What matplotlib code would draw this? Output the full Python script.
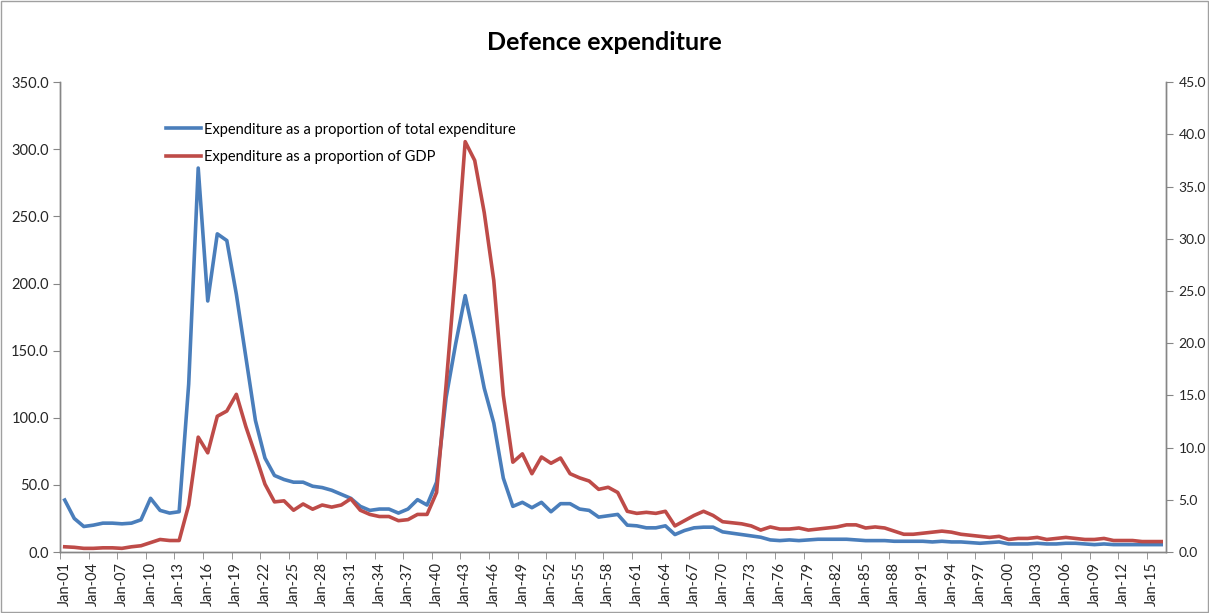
import numpy as np
import matplotlib
matplotlib.use("Agg")
import matplotlib.pyplot as plt
from matplotlib.patches import Rectangle
from matplotlib.ticker import FormatStrFormatter

plt.rcParams['font.family'] = ['Lato', 'DejaVu Sans']

years = list(range(1901, 2017))

# defence spending as % of total expenditure (left axis)
share_total = [
    38.7, 25, 19, 20, 21.5, 21.5, 21, 21.5, 24, 40,
    31, 29, 30, 125, 286, 187, 237, 232, 192, 145,
    98, 70, 57, 54, 52, 52, 49, 48, 46, 43,
    40, 34, 31, 32, 32, 29, 32, 39, 35, 52,
    115, 155, 191, 158, 122, 96, 55, 34, 37, 33,
    37, 30, 36, 36, 32, 31, 26, 27, 28, 20,
    19.5, 18, 18, 19.5, 13, 16, 18, 18.5, 18.5, 15,
    14, 13, 12, 11, 9, 8.5, 9, 8.5, 9, 9.5,
    9.5, 9.5, 9.5, 9, 8.5, 8.5, 8.5, 8, 8, 8,
    8, 7.5, 8, 7.5, 7.5, 7, 6.5, 7, 7.5, 6,
    6, 6, 6.5, 6, 6, 6.5, 6.5, 6, 5.5, 6,
    5.5, 5.5, 5.5, 5.5, 5.5, 5.5,
]

# defence spending as % of GDP (right axis)
share_gdp = [
    0.5, 0.45, 0.35, 0.35, 0.4, 0.4, 0.35, 0.5, 0.6, 0.9,
    1.2, 1.1, 1.1, 4.5, 11, 9.5, 13, 13.5, 15.1, 12,
    9.3, 6.5, 4.8, 4.9, 4.0, 4.6, 4.1, 4.5, 4.3, 4.5,
    5.1, 4.0, 3.6, 3.4, 3.4, 3.0, 3.1, 3.6, 3.6, 5.7,
    16, 27, 39.3, 37.5, 32.5, 26, 15, 8.6, 9.4, 7.5,
    9.1, 8.5, 9.0, 7.5, 7.1, 6.8, 6.0, 6.2, 5.7, 3.9,
    3.7, 3.8, 3.7, 3.9, 2.5, 3.0, 3.5, 3.9, 3.5, 2.9,
    2.8, 2.7, 2.5, 2.1, 2.4, 2.2, 2.2, 2.3, 2.1, 2.2,
    2.3, 2.4, 2.6, 2.6, 2.3, 2.4, 2.3, 2.0, 1.7, 1.7,
    1.8, 1.9, 2.0, 1.9, 1.7, 1.6, 1.5, 1.4, 1.5, 1.2,
    1.3, 1.3, 1.4, 1.2, 1.3, 1.4, 1.3, 1.2, 1.2, 1.3,
    1.1, 1.1, 1.1, 1.0, 1.0, 1.0,
]

x = np.arange(len(years))
axis_grey = '#868686'
text_col = '#262626'

fig = plt.figure(figsize=(12.09, 6.13), dpi=100)
ax = fig.add_axes([0.0496, 0.0995, 0.9148, 0.7665])
ax2 = ax.twinx()

l1, = ax.plot(x, share_total, color='#4A7EBB', lw=2.6, solid_joinstyle='round',
              label='Expenditure as a proportion of total expenditure')
l2, = ax2.plot(x, share_gdp, color='#BE4B48', lw=2.6, solid_joinstyle='round',
               label='Expenditure as a proportion of GDP')

ax.set_xlim(-0.5, len(years) - 0.5)
ax.set_ylim(0, 350)
ax2.set_ylim(0, 45)
ax.set_yticks(np.arange(0, 351, 50))
ax2.set_yticks(np.arange(0, 46, 5))
ax.yaxis.set_major_formatter(FormatStrFormatter('%.1f'))
ax2.yaxis.set_major_formatter(FormatStrFormatter('%.1f'))

# labels every third year, tick marks between categories
lab_pos = x[::3]
ax.set_xticks(lab_pos)
ax.set_xticklabels(['Jan-%02d' % (years[i] % 100) for i in lab_pos], rotation=90)
ax.set_xticks(np.arange(-0.5, len(years), 3), minor=True)
ax.tick_params(axis='x', which='major', length=0, pad=7, labelsize=10.5, colors=text_col)
ax.tick_params(axis='x', which='minor', length=5, direction='out', color=axis_grey)
ax.tick_params(axis='y', length=5, direction='out', color=axis_grey, labelsize=10.5,
               labelcolor=text_col, pad=3)
ax2.tick_params(axis='y', length=5, direction='out', color=axis_grey, labelsize=10,
                labelcolor=text_col, pad=4)

for a in (ax, ax2):
    a.spines['top'].set_visible(False)
    for s in ('left', 'right', 'bottom'):
        a.spines[s].set_color(axis_grey)
        a.spines[s].set_linewidth(1.0)

fig.text(0.5, 0.93, 'Defence expenditure', ha='center', va='center',
         fontsize=18, fontweight='bold', color='black')

fig.legend(handles=[l1, l2], loc='upper left', bbox_to_anchor=(0.137, 0.80),
           frameon=False, fontsize=10.5, handlelength=2.4, handletextpad=0.2,
           labelspacing=0.95, borderaxespad=0, borderpad=0)

fig.patches.append(Rectangle((0.001, 0.001), 0.998, 0.998, transform=fig.transFigure,
                             fill=False, edgecolor='#A0A0A0', lw=1.0))

fig.savefig('out.png', dpi=100)
